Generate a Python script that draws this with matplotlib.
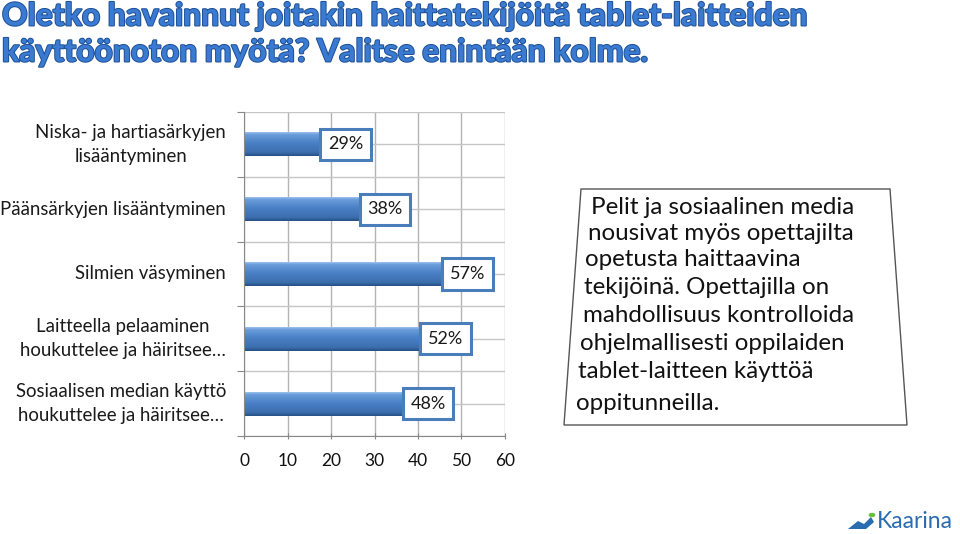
import matplotlib
matplotlib.use("Agg")
import matplotlib.pyplot as plt
import numpy as np
from matplotlib.patches import Polygon, Rectangle
import matplotlib.patheffects as pe
from matplotlib.colors import LinearSegmentedColormap

categories = ["Niska- ja hartiasärkyjen\nlisääntyminen",
              "Päänsärkyjen lisääntyminen",
              "Silmien väsyminen",
              "Laitteella pelaaminen\nhoukuttelee ja häiritsee…",
              "Sosiaalisen median käyttö\nhoukuttelee ja häiritsee…"]
values = [29, 38, 57, 52, 48]
xticks = [0, 10, 20, 30, 40, 50, 60]
title_lines = ["Oletko havainnut joitakin haittatekijöitä tablet-laitteiden",
               "käyttöönoton myötä? Valitse enintään kolme."]
note_lines = ["Pelit ja sosiaalinen media",
              "nousivat myös opettajilta",
              "opetusta haittaavina",
              "tekijöinä. Opettajilla on",
              "mahdollisuus kontrolloida",
              "ohjelmallisesti oppilaiden",
              "tablet-laitteen käyttöä",
              "oppitunneilla."]

W, H = 960, 534
fig = plt.figure(figsize=(W/100, H/100), dpi=100)
fig.patch.set_facecolor("white")

def fx(px): return px / W
def fy(py): return 1 - py / H

ax = fig.add_axes([fx(244), fy(436), fx(505) - fx(244), fy(112) - fy(436)])
n = len(categories)
ypos = np.arange(n)

for x in xticks:
    ax.axvline(x, color="#b3b3b3", lw=1, zorder=0)
for yb in np.arange(-0.5, n, 0.5):
    ax.axhline(yb, color="#c6c6c6", lw=1, zorder=0)

bar_h = 0.37
bars = ax.barh(ypos, values, height=bar_h, color="#4a7ebb", edgecolor="none", zorder=2)
grad = np.linspace(0, 1, 100).reshape(-1, 1)
cmap = LinearSegmentedColormap.from_list("b", [(0, "#9cc0ec"), (0.1, "#6a9ddb"), (0.45, "#4a80c6"),
                                               (0.85, "#3c6eae"), (1.0, "#264f86")])
for b in bars:
    x0, y0, w, h = b.get_x(), b.get_y(), b.get_width(), b.get_height()
    im = ax.imshow(grad, cmap=cmap, aspect="auto", extent=[x0, x0 + w, y0 + h, y0], zorder=2.5)
    im.set_clip_path(b)
    ax.add_patch(Rectangle((x0 + w - 0.5, y0), 0.5, h, color="#2e5a92", zorder=2.6))

ax.set_xlim(0, 60)
ax.set_ylim(n - 0.5, -0.5)

for yv, v in zip(ypos, values):
    ax.text(v - 1.6, yv, f"{v}%", ha="right", va="center", fontsize=13, family="Lato",
            color="#1a1a1a", zorder=4,
            bbox=dict(boxstyle="square,pad=0.42", facecolor="white", edgecolor="#4a7ebb", lw=2.2))

ax.set_yticks(np.arange(-0.5, n + 0.5, 1))
ax.set_yticklabels([])
ax.tick_params(axis="y", length=5, color="#888888", direction="out")
ax.set_xticks(xticks)
ax.set_xticklabels([str(t) for t in xticks], fontsize=12.5, family="Lato", color="#111111")
ax.tick_params(axis="x", length=5, color="#888888", direction="inout", pad=10)
for s in ["top", "right"]:
    ax.spines[s].set_visible(False)
for s in ["left", "bottom"]:
    ax.spines[s].set_color("#888888")

for yv, c in zip(ypos, categories):
    ax.annotate(c, xy=(0, yv), xycoords=("axes fraction", "data"), xytext=(-18, 0),
                textcoords="offset pixels", ha="right", va="center", multialignment="center",
                fontsize=13.4, family="Lato", color="#1a1a1a", linespacing=1.5)

# title
for t, yy in zip(title_lines, [16, 52]):
    fig.text(fx(2), fy(yy), t, ha="left", va="center", fontsize=22.8, family="Lato",
             fontweight="black", color="#3a7ad0",
             path_effects=[pe.withStroke(linewidth=1.4, foreground="#1d4f96")])

# note box
quad = Polygon([(fx(581), fy(189)), (fx(890), fy(189)), (fx(907), fy(425)), (fx(564), fy(425))],
               closed=True, transform=fig.transFigure, facecolor="white", edgecolor="#555555", lw=1)
fig.add_artist(quad)
lx = [591, 588, 585, 584, 583, 580, 578, 576]
ly = [207, 233, 259, 287, 315, 343, 372, 403]
for t, xx, yy in zip(note_lines, lx, ly):
    fig.text(fx(xx), fy(yy), t, ha="left", va="center", fontsize=17.4, family="Lato", color="#111111")

# logo
fig.text(fx(877), fy(522), "Kaarina", ha="left", va="center", fontsize=16.5, family="Lato", color="#2a6cb0")
wave = Polygon([(fx(848), fy(529)), (fx(858), fy(521)), (fx(864), fy(524)), (fx(871), fy(517)),
                (fx(874), fy(522)), (fx(866), fy(529))], closed=True, transform=fig.transFigure,
               facecolor="#2a6cb0", edgecolor="none")
fig.add_artist(wave)
fig.add_artist(plt.Circle((fx(872), fy(515)), 0.0028, transform=fig.transFigure, color="#6cbf3a"))

fig.savefig("out.png", dpi=100)
